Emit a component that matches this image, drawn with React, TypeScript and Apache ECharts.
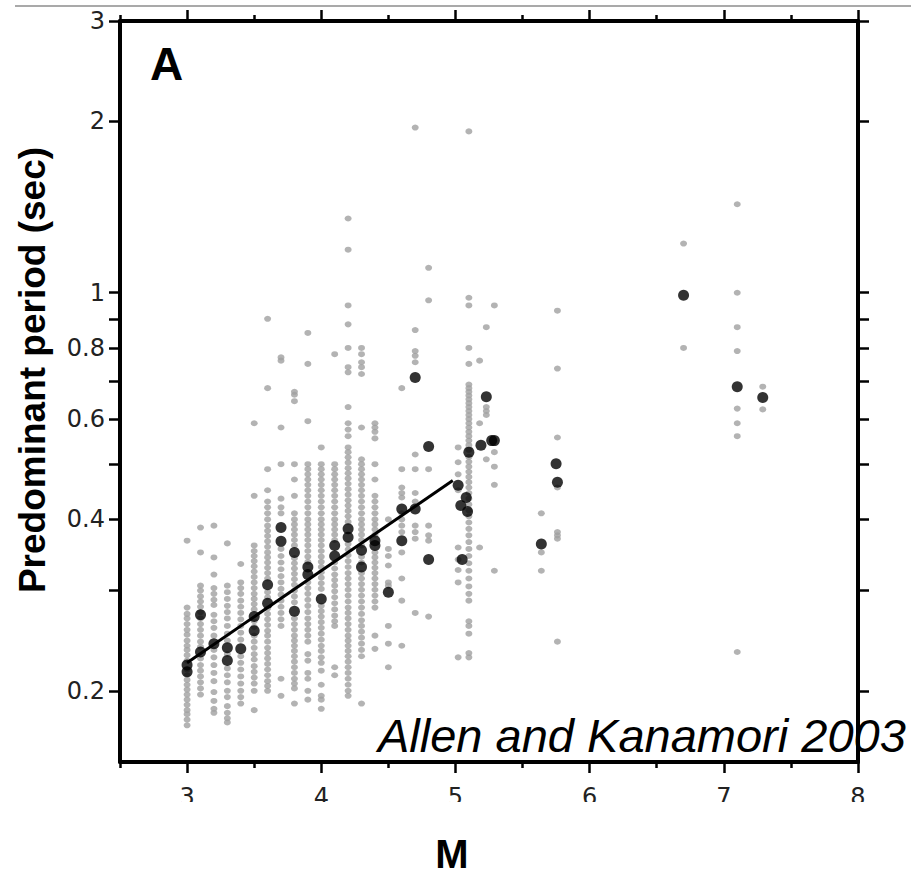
import React, { useEffect, useRef } from 'react';
import * as echarts from 'echarts';

// ---------- data ----------
const grayMagnitudes = [3.0, 3.1, 3.2, 3.3, 3.4, 3.5, 3.6, 3.7, 3.8, 3.9, 4.0, 4.1, 4.2, 4.3, 4.4, 4.5, 4.6, 4.7, 4.8, 5.02, 5.1, 5.18, 5.23, 5.29, 5.64, 5.76, 6.7, 7.1, 7.29];
const grayPeriods: number[][] = [
  [0.367, 0.280, 0.273, 0.268, 0.262, 0.256, 0.251, 0.245, 0.240, 0.236, 0.231, 0.226, 0.218, 0.213, 0.209, 0.205, 0.201, 0.197, 0.193, 0.189, 0.185, 0.182, 0.178, 0.174],
  [0.387, 0.350, 0.306, 0.300, 0.293, 0.287, 0.281, 0.275, 0.268, 0.262, 0.256, 0.250, 0.244, 0.239, 0.228, 0.222, 0.217, 0.212, 0.207, 0.202, 0.197],
  [0.390, 0.343, 0.320, 0.303, 0.296, 0.289, 0.283, 0.272, 0.265, 0.258, 0.250, 0.236, 0.229, 0.222, 0.215, 0.208, 0.199, 0.192, 0.186, 0.183],
  [0.363, 0.306, 0.298, 0.290, 0.282, 0.275, 0.268, 0.260, 0.252, 0.245, 0.232, 0.219, 0.213, 0.207, 0.200, 0.195, 0.188, 0.183, 0.179, 0.176],
  [0.334, 0.310, 0.303, 0.296, 0.288, 0.281, 0.274, 0.267, 0.260, 0.253, 0.246, 0.230, 0.224, 0.218, 0.212, 0.206, 0.200, 0.195, 0.190],
  [0.590, 0.440, 0.360, 0.352, 0.345, 0.338, 0.331, 0.324, 0.317, 0.310, 0.303, 0.296, 0.290, 0.284, 0.278, 0.265, 0.259, 0.250, 0.244, 0.238, 0.232, 0.227, 0.221, 0.216, 0.211, 0.206, 0.200, 0.185],
  [0.900, 0.680, 0.490, 0.450, 0.430, 0.420, 0.410, 0.400, 0.390, 0.382, 0.374, 0.366, 0.358, 0.350, 0.343, 0.336, 0.329, 0.322, 0.315, 0.298, 0.292, 0.279, 0.273, 0.267, 0.261, 0.255, 0.250, 0.244, 0.238, 0.233, 0.228, 0.223, 0.218, 0.213, 0.208, 0.204, 0.200],
  [0.770, 0.760, 0.580, 0.500, 0.435, 0.420, 0.410, 0.355, 0.345, 0.336, 0.327, 0.318, 0.310, 0.302, 0.295, 0.288, 0.281, 0.274, 0.267, 0.260, 0.210, 0.196],
  [0.670, 0.662, 0.645, 0.500, 0.470, 0.440, 0.410, 0.400, 0.392, 0.384, 0.376, 0.368, 0.360, 0.342, 0.335, 0.328, 0.321, 0.314, 0.307, 0.300, 0.293, 0.286, 0.268, 0.262, 0.256, 0.250, 0.245, 0.240, 0.235, 0.230, 0.225, 0.220, 0.215, 0.210, 0.206, 0.202, 0.190],
  [0.850, 0.750, 0.595, 0.500, 0.490, 0.480, 0.470, 0.460, 0.450, 0.440, 0.430, 0.420, 0.410, 0.400, 0.392, 0.384, 0.376, 0.368, 0.360, 0.352, 0.344, 0.337, 0.310, 0.303, 0.296, 0.289, 0.282, 0.275, 0.268, 0.262, 0.256, 0.250, 0.244, 0.232, 0.226, 0.215, 0.210, 0.200, 0.193],
  [0.535, 0.500, 0.490, 0.480, 0.470, 0.460, 0.450, 0.440, 0.430, 0.420, 0.410, 0.400, 0.392, 0.384, 0.376, 0.368, 0.360, 0.352, 0.344, 0.337, 0.330, 0.323, 0.316, 0.309, 0.302, 0.282, 0.276, 0.270, 0.264, 0.258, 0.252, 0.246, 0.240, 0.235, 0.229, 0.224, 0.217, 0.205, 0.196, 0.193, 0.186],
  [0.780, 0.500, 0.490, 0.480, 0.470, 0.460, 0.450, 0.440, 0.430, 0.420, 0.410, 0.400, 0.392, 0.384, 0.376, 0.368, 0.336, 0.328, 0.320, 0.313, 0.306, 0.299, 0.292, 0.285, 0.278, 0.271, 0.265, 0.260, 0.220, 0.213],
  [1.350, 1.190, 0.950, 0.880, 0.800, 0.740, 0.725, 0.630, 0.590, 0.575, 0.560, 0.535, 0.525, 0.514, 0.503, 0.492, 0.482, 0.472, 0.462, 0.452, 0.442, 0.432, 0.423, 0.414, 0.405, 0.396, 0.362, 0.354, 0.346, 0.338, 0.330, 0.322, 0.315, 0.308, 0.301, 0.294, 0.287, 0.280, 0.274, 0.268, 0.262, 0.256, 0.250, 0.245, 0.240, 0.235, 0.230, 0.225, 0.220, 0.215, 0.210, 0.205, 0.200, 0.196],
  [0.800, 0.780, 0.755, 0.740, 0.720, 0.580, 0.510, 0.500, 0.490, 0.480, 0.470, 0.460, 0.450, 0.440, 0.430, 0.420, 0.410, 0.400, 0.392, 0.384, 0.376, 0.368, 0.360, 0.344, 0.336, 0.322, 0.315, 0.308, 0.301, 0.294, 0.287, 0.280, 0.273, 0.266, 0.260, 0.254, 0.248, 0.242, 0.236, 0.230, 0.190],
  [0.590, 0.580, 0.570, 0.555, 0.500, 0.470, 0.440, 0.430, 0.420, 0.410, 0.400, 0.392, 0.384, 0.376, 0.350, 0.343, 0.336, 0.329, 0.322, 0.315, 0.308, 0.301, 0.294, 0.287, 0.280, 0.250, 0.237],
  [0.400, 0.355, 0.345, 0.332, 0.310, 0.306, 0.260, 0.242, 0.220],
  [0.680, 0.490, 0.455, 0.445, 0.437, 0.410, 0.400, 0.390, 0.380, 0.350, 0.315, 0.288, 0.240],
  [1.950, 0.860, 0.790, 0.775, 0.755, 0.520, 0.490, 0.445, 0.430, 0.390, 0.380, 0.370, 0.274],
  [1.106, 0.970, 0.490, 0.390, 0.375, 0.367, 0.270],
  [0.535, 0.504, 0.480, 0.450, 0.357, 0.340, 0.326, 0.310, 0.229],
  [1.920, 0.980, 0.950, 0.800, 0.750, 0.690, 0.680, 0.670, 0.660, 0.650, 0.640, 0.630, 0.620, 0.610, 0.600, 0.590, 0.580, 0.570, 0.560, 0.550, 0.540, 0.530, 0.515, 0.505, 0.495, 0.485, 0.475, 0.465, 0.455, 0.445, 0.435, 0.425, 0.415, 0.405, 0.395, 0.385, 0.375, 0.365, 0.355, 0.345, 0.335, 0.325, 0.315, 0.305, 0.296, 0.288, 0.265, 0.260, 0.252, 0.233, 0.229],
  [0.760, 0.590, 0.357],
  [0.870, 0.630, 0.620, 0.610, 0.510],
  [0.950, 0.525, 0.495, 0.460, 0.325],
  [0.410, 0.350, 0.325],
  [0.930, 0.736, 0.557, 0.455, 0.380, 0.375, 0.370, 0.244],
  [1.220, 0.800],
  [1.430, 1.000, 0.870, 0.790, 0.626, 0.590, 0.560, 0.234],
  [0.684, 0.624],
];

const blackMagnitudes = [3.0, 3.0, 3.1, 3.1, 3.2, 3.3, 3.3, 3.4, 3.5, 3.5, 3.6, 3.6, 3.7, 3.7, 3.8, 3.8, 3.9, 3.9, 4.0, 4.1, 4.1, 4.2, 4.2, 4.3, 4.3, 4.4, 4.4, 4.5, 4.6, 4.6, 4.7, 4.7, 4.8, 4.8, 5.02, 5.08, 5.04, 5.09, 5.05, 5.1, 5.19, 5.23, 5.27, 5.29, 5.64, 5.75, 5.76, 6.7, 7.1, 7.29];
const blackPeriods = [0.222, 0.216, 0.272, 0.234, 0.242, 0.238, 0.226, 0.237, 0.270, 0.255, 0.307, 0.285, 0.387, 0.366, 0.350, 0.276, 0.330, 0.320, 0.290, 0.360, 0.345, 0.385, 0.372, 0.353, 0.330, 0.367, 0.360, 0.298, 0.417, 0.367, 0.710, 0.417, 0.537, 0.340, 0.459, 0.437, 0.423, 0.413, 0.340, 0.525, 0.540, 0.657, 0.550, 0.550, 0.362, 0.501, 0.465, 0.990, 0.684, 0.655];

const fitMagnitudes = [3.0, 4.98];
const fitPeriods = [0.224, 0.468];

const xMajorTicks = [3, 4, 5, 6, 7, 8];
const xMinorTicks = [2.5, 3.5, 4.5, 5.5, 6.5, 7.5];
const yTickValues = [0.2, 0.3, 0.4, 0.5, 0.6, 0.7, 0.8, 0.9, 1, 2, 3];
const yLabelValues = [0.2, 0.4, 0.6, 0.8, 1, 2, 3];

const xMin = 2.5;
const xMax = 8;
const yMin = 0.15;
const yMax = 3;

const FONT = "'Liberation Sans', Arial, Helvetica, sans-serif";
const TICK_FONT = "'DejaVu Sans', Verdana, sans-serif";

// ---------- option ----------
const grayData: number[][] = [];
grayMagnitudes.forEach((m, i) => grayPeriods[i].forEach((p) => grayData.push([m, p])));
const blackData = blackMagnitudes.map((m, i) => [m, blackPeriods[i]]);
const fitData = fitMagnitudes.map((m, i) => [m, fitPeriods[i]]);

const lg = (v: number) => Math.log10(v);

const xAxisBase = (position: 'top' | 'bottom', ticks: number[], len: number, line: boolean, labels: boolean) => ({
  type: 'value',
  min: xMin,
  max: xMax,
  position,
  splitLine: { show: false },
  axisLine: { show: line, onZero: false, lineStyle: { color: '#000', width: 4 } },
  axisTick: { show: true, inside: false, length: len, customValues: ticks, lineStyle: { color: '#000', width: 2.5 } },
  axisLabel: labels
    ? { show: true, customValues: xMajorTicks, fontSize: 24, color: '#222', margin: 23, fontFamily: TICK_FONT }
    : { show: false },
});

const yValueAxis = (position: 'left' | 'right', labels: boolean) => ({
  type: 'value',
  min: lg(yMin),
  max: lg(yMax),
  position,
  splitLine: { show: false },
  axisLine: { show: true, onZero: false, lineStyle: { color: '#000', width: 4 } },
  axisTick: { show: true, inside: false, length: 11, customValues: yTickValues.map(lg), lineStyle: { color: '#000', width: 2.5 } },
  axisLabel: labels
    ? {
        show: true,
        customValues: yLabelValues.map(lg),
        fontSize: 24,
        color: '#222',
        margin: 15,
        fontFamily: TICK_FONT,
        formatter: (v: number) => String(Math.round(Math.pow(10, v) * 10) / 10),
      }
    : { show: false },
});

const option = {
  animation: false,
  backgroundColor: '#fff',
  grid: { left: 120, top: 21, right: 56, bottom: 116, containLabel: false },
  xAxis: [
    xAxisBase('bottom', xMajorTicks, 11, true, true),
    xAxisBase('bottom', xMinorTicks, 6, false, false),
    xAxisBase('top', xMajorTicks, 11, true, false),
    xAxisBase('top', xMinorTicks, 6, false, false),
  ],
  yAxis: [
    {
      type: 'log',
      logBase: 10,
      min: yMin,
      max: yMax,
      position: 'left',
      axisLine: { show: false, onZero: false },
      axisTick: { show: false },
      axisLabel: { show: false },
      splitLine: { show: false },
    },
    yValueAxis('left', true),
    yValueAxis('right', false),
  ],
  series: [
    {
      type: 'scatter',
      name: 'stations',
      xAxisIndex: 0,
      yAxisIndex: 0,
      data: grayData,
      symbol: 'circle',
      symbolSize: [7, 6],
      itemStyle: { color: '#a0a0a0' },
      silent: true,
      z: 1,
    },
    {
      type: 'line',
      name: 'fit',
      xAxisIndex: 0,
      yAxisIndex: 0,
      data: fitData,
      showSymbol: false,
      symbol: 'none',
      lineStyle: { color: '#000', width: 3 },
      silent: true,
      z: 2,
    },
    {
      type: 'scatter',
      name: 'events',
      xAxisIndex: 0,
      yAxisIndex: 0,
      data: blackData,
      symbol: 'circle',
      symbolSize: 11,
      itemStyle: { color: '#000' },
      silent: true,
      z: 3,
    },
  ],
  graphic: [
    {
      type: 'line',
      shape: { x1: 15, y1: 6, x2: 911, y2: 6 },
      style: { stroke: '#555', lineWidth: 1.2 },
      silent: true,
    },
    {
      type: 'rect',
      shape: { x: 100, y: 802, width: 814, height: 34 },
      style: { fill: '#fff' },
      z: 100,
      silent: true,
    },
    {
      type: 'text',
      x: 150,
      y: 64,
      style: { text: 'A', font: `bold 46px ${FONT}`, fill: '#000', textAlign: 'left', textVerticalAlign: 'middle' },
      silent: true,
    },
    {
      type: 'text',
      x: 378,
      y: 735,
      style: { text: 'Allen and Kanamori 2003', font: `italic 47px ${FONT}`, fill: '#000', textAlign: 'left', textVerticalAlign: 'middle' },
      z: 50,
      silent: true,
    },
    {
      type: 'text',
      x: 452,
      y: 854,
      style: { text: 'M', font: `bold 40px ${FONT}`, fill: '#000', textAlign: 'center', textVerticalAlign: 'middle' },
      silent: true,
    },
    {
      type: 'text',
      x: 32,
      y: 370,
      rotation: Math.PI / 2,
      style: { text: 'Predominant period (sec)', font: `bold 37px ${FONT}`, fill: '#000', textAlign: 'center', textVerticalAlign: 'middle' },
      silent: true,
    },
  ],
};

export default function App() {
  const ref = useRef<HTMLDivElement>(null);
  useEffect(() => {
    if (!ref.current) return;
    const chart = echarts.init(ref.current, null, { renderer: 'svg' });
    chart.setOption(option as any);
    return () => chart.dispose();
  }, []);
  return (
    <div
      ref={ref}
      style={{ position: 'absolute', left: 0, top: 0, width: 914, height: 878, background: '#fff' }}
    />
  );
}
